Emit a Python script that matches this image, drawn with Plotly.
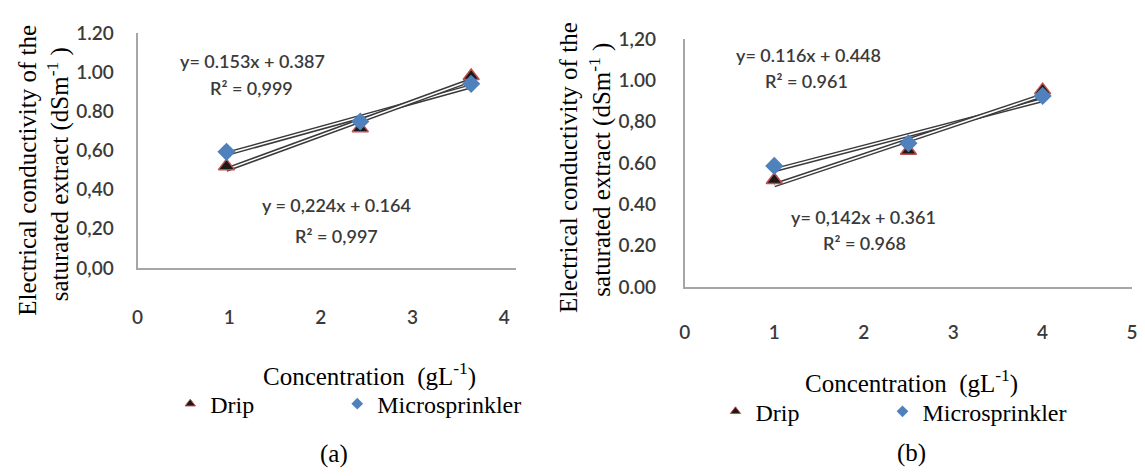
import numpy as np
import plotly.graph_objects as go

W, H = 1145, 476

# ---------------- data ----------------
# panel (a)
a_x = [0.97, 2.43, 3.64]
a_drip = [0.52, 0.714, 0.98]
a_micro = [0.593, 0.748, 0.94]
a_eq_top = ["y= 0.153x + 0.387", "R² = 0,999"]
a_eq_bot = ["y = 0,224x + 0.164", "R² = 0,997"]
a_yticks = [0.0, 0.2, 0.4, 0.6, 0.8, 1.0, 1.2]
a_yticktext = ["0,00", "0,20", "0,40", "0,60", "0.80", "1.00", "1.20"]
a_xticks = [0, 1, 2, 3, 4]

# panel (b)
b_x = [1.0, 2.5, 4.0]
b_drip = [0.518, 0.66, 0.953]
b_micro = [0.586, 0.696, 0.925]
b_eq_top = ["y= 0.116x + 0.448", "R² = 0.961"]
b_eq_bot = ["y= 0,142x + 0.361", "R² = 0.968"]
b_yticks = [0.0, 0.2, 0.4, 0.6, 0.8, 1.0, 1.2]
b_yticktext = ["0.00", "0.20", "0.40", "0.60", "0,80", "1.00", "1,20"]
b_xticks = [0, 1, 2, 3, 4, 5]

series_names = ["Drip", "Microsprinkler"]
y_title_1 = "Electrical conductivity of the"
y_title_2 = "saturated extract (dSm<sup>-1</sup> )"
x_title = "Concentration  (gL<sup>-1</sup>)"
captions = ["(a)", "(b)"]

# ---------------- styles ----------------
DRIP_FILL = "#1a1a1a"
DRIP_EDGE = "#c0504d"
MICRO = "#4f81bd"
AXIS = "#a6a6a6"
TXT = "#3a3a3a"
SERIF = "Liberation Serif"
SANS = "Lato"
PAD = "&nbsp;" * 13


def X(p):
    return p / W


def Y(p):
    return 1 - p / H


fig = go.Figure()


def add_panel(xs, drip, micro, xa, ya, legend):
    for vals in (micro, drip):
        k, b = np.polyfit(xs, vals, 1)
        xl = np.array([min(xs), max(xs)])
        yl = k * xl + b
        fig.add_trace(go.Scatter(x=xl, y=yl, mode="lines", xaxis=xa, yaxis=ya,
                                 line=dict(color="#3a3a3a", width=4.5),
                                 showlegend=False, hoverinfo="skip"))
        fig.add_trace(go.Scatter(x=xl, y=yl, mode="lines", xaxis=xa, yaxis=ya,
                                 line=dict(color="white", width=1.6),
                                 showlegend=False, hoverinfo="skip"))
    fig.add_trace(go.Scatter(x=xs, y=drip, mode="markers", xaxis=xa, yaxis=ya,
                             marker=dict(symbol="triangle-up", size=14, color=DRIP_FILL,
                                         line=dict(color=DRIP_EDGE, width=1.5)),
                             showlegend=False))
    fig.add_trace(go.Scatter(x=xs, y=micro, mode="markers", xaxis=xa, yaxis=ya,
                             marker=dict(symbol="diamond", size=14, color=MICRO,
                                         line=dict(width=0)),
                             showlegend=False))
    # legend-only entries
    fig.add_trace(go.Scatter(x=[None], y=[None], mode="markers", xaxis=xa, yaxis=ya,
                             name=series_names[0] + PAD, legend=legend,
                             marker=dict(symbol="triangle-up", size=9, color=DRIP_FILL,
                                         line=dict(color=DRIP_EDGE, width=1))))
    fig.add_trace(go.Scatter(x=[None], y=[None], mode="markers", xaxis=xa, yaxis=ya,
                             name=series_names[1], legend=legend,
                             marker=dict(symbol="diamond", size=9, color=MICRO)))


add_panel(a_x, a_drip, a_micro, "x", "y", "legend")
add_panel(b_x, b_drip, b_micro, "x2", "y2", "legend2")

tickfont = dict(family=SANS, size=19, color=TXT, weight=600)
common_x = dict(showgrid=False, zeroline=False, showline=True, linecolor=AXIS,
                linewidth=2, ticks="", tickfont=tickfont, fixedrange=True)
common_y = dict(showgrid=False, zeroline=False, showline=True, linecolor=AXIS,
                linewidth=2, ticks="", tickfont=tickfont, fixedrange=True)

fig.update_layout(
    width=W, height=H,
    margin=dict(l=0, r=0, t=0, b=0),
    paper_bgcolor="white", plot_bgcolor="white",
    xaxis=dict(domain=[X(133), X(515)], range=[0, 4.125], tickvals=a_xticks,
               ticklabelstandoff=31, anchor="y", **common_x),
    yaxis=dict(domain=[Y(269), Y(22)], range=[0, 1.2], tickvals=a_yticks,
               ticktext=a_yticktext, ticklabelstandoff=18, anchor="x", **common_y),
    xaxis2=dict(domain=[X(686), X(1138)], range=[0, 5], tickvals=b_xticks,
                ticklabelstandoff=27, anchor="y2", **common_x),
    yaxis2=dict(domain=[Y(289), Y(28.5)], range=[0, 1.2], tickvals=b_yticks,
                ticktext=b_yticktext, ticklabelstandoff=23, anchor="x2", **common_y),
    legend=dict(orientation="h", x=X(166), y=Y(412), xanchor="left", yanchor="middle",
                bgcolor="rgba(0,0,0,0)",
                font=dict(family=SERIF, size=24, color="black")),
    legend2=dict(orientation="h", x=X(717), y=Y(420), xanchor="left", yanchor="middle",
                 bgcolor="rgba(0,0,0,0)",
                 font=dict(family=SERIF, size=24, color="black")),
)

ann = []


def text(x, y, s, font, angle=0):
    ann.append(dict(x=X(x), y=Y(y), xref="paper", yref="paper", text=s,
                    showarrow=False, xanchor="center", yanchor="middle",
                    textangle=angle, font=font))


eqfont = dict(family=SANS, size=18, color=TXT, weight=600)
text(249, 51, a_eq_top[0], eqfont)
text(248, 80, a_eq_top[1], eqfont)
text(334, 203, a_eq_bot[0], eqfont)
text(334, 235, a_eq_bot[1], eqfont)
text(811, 45, b_eq_top[0], eqfont)
text(809, 72, b_eq_top[1], eqfont)
text(867, 215, b_eq_bot[0], eqfont)
text(868, 243, b_eq_bot[1], eqfont)

serif = dict(family=SERIF, size=25, color="black")
text(22, 166, y_title_1, serif, -90)
text(53, 170, y_title_2, serif, -90)
text(568, 164, y_title_1, serif, -90)
text(601, 166, y_title_2, serif, -90)

serif24 = dict(family=SERIF, size=25, color="black")
text(367, 381, x_title, serif24)
text(915, 388, x_title, serif24)
text(331, 464, captions[0], serif24)
text(915, 463, captions[1], serif24)

fig.update_layout(annotations=ann)
fig.write_html("out.html")
